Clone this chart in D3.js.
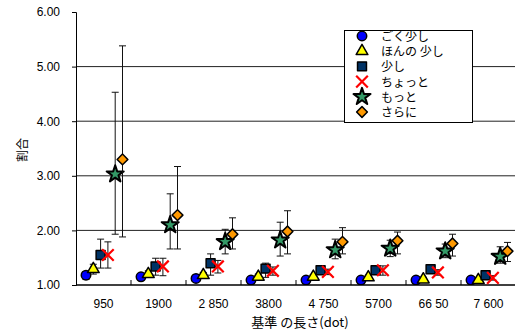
<!DOCTYPE html>
<html>
<head>
<meta charset="utf-8">
<script src="https://cdn.jsdelivr.net/npm/d3@7"></script>
<style>
  body { margin: 0; background: #fff; }
  text { font-family: "Liberation Sans", Arial, sans-serif; }
  .jp { font-family: "Noto Sans CJK JP", sans-serif; }
</style>
</head>
<body>
<div class="chart"></div>
<script>
// values
var categories = ["950", "1900", "2 850", "3800", "4 750", "5700", "66 50", "7 600"];
var seriesNames = ["ごく少し", "ほんの 少し", "少し", "ちょっと", "もっと", "さらに"];
var yTicks = [1, 2, 3, 4, 5, 6];

var goku    = [1.18, 1.15, 1.12, 1.09, 1.09, 1.09, 1.09, 1.09];
var honno   = [1.29, 1.20, 1.18, 1.15, 1.15, 1.14, 1.10, 1.09];
var sukoshi = [1.55, 1.34, 1.40, 1.30, 1.27, 1.27, 1.29, 1.18];
var chotto  = [1.55, 1.34, 1.34, 1.26, 1.24, 1.27, 1.23, 1.13];
var motto   = [3.03, 2.10, 1.79, 1.82, 1.64, 1.67, 1.62, 1.52];
var sarani  = [3.30, 2.28, 1.93, 1.98, 1.79, 1.81, 1.76, 1.62];

// error bar ends (upper / lower)
var gokuHi    = [1.24, 1.19, 1.16, 1.12, 1.12, 1.12, 1.12, 1.11];
var gokuLo    = [1.10, 1.10, 1.07, 1.05, 1.05, 1.05, 1.05, 1.05];
var honnoHi   = [1.38, 1.26, 1.23, 1.20, 1.19, 1.18, 1.14, 1.13];
var honnoLo   = [1.20, 1.14, 1.12, 1.10, 1.10, 1.10, 1.06, 1.05];
var sukoshiHi = [1.84, 1.49, 1.57, 1.40, 1.33, 1.32, 1.35, 1.22];
var sukoshiLo = [1.31, 1.18, 1.18, 1.14, 1.20, 1.21, 1.22, 1.13];
var chottoHi  = [1.79, 1.49, 1.45, 1.33, 1.29, 1.35, 1.28, 1.17];
var chottoLo  = [1.31, 1.17, 1.22, 1.18, 1.19, 1.18, 1.18, 1.09];
var mottoHi   = [4.53, 2.67, 2.02, 2.15, 1.84, 1.82, 1.75, 1.70];
var mottoLo   = [1.93, 1.66, 1.57, 1.53, 1.48, 1.52, 1.50, 1.40];
var saraniHi  = [5.38, 3.17, 2.23, 2.36, 2.05, 1.97, 1.93, 1.78];
var saraniLo  = [1.88, 1.66, 1.66, 1.57, 1.57, 1.57, 1.53, 1.43];

var seriesValues = [goku, honno, sukoshi, chotto, motto, sarani];
var seriesHi = [gokuHi, honnoHi, sukoshiHi, chottoHi, mottoHi, saraniHi];
var seriesLo = [gokuLo, honnoLo, sukoshiLo, chottoLo, mottoLo, saraniLo];

// marker styles per series (rot = extra rotation, for the diamond)
var styles = [
  {type: d3.symbolCircle,   size: 70, rot: 0,  fill: "#0000ff", stroke: "#000", sw: 1.5},
  {type: d3.symbolTriangle, size: 60, rot: 0,  fill: "#ffff00", stroke: "#000", sw: 1.5},
  {type: d3.symbolSquare,   size: 80, rot: 0,  fill: "#003366", stroke: "#000", sw: 1.5},
  {type: d3.symbolX,        size: 90, rot: 0,  fill: "none",    stroke: "#ff0000", sw: 2.2},
  {type: d3.symbolStar,     size: 90, rot: 0,  fill: "#339966", stroke: "#000", sw: 2},
  {type: d3.symbolSquare,   size: 58, rot: 45, fill: "#ff9900", stroke: "#000", sw: 1.5}
];

var svg = d3.select(".chart").append("svg").attr("width", 515).attr("height", 331),
    pLeft = 76, pRight = 516, pTop = 12, pBottom = 285;

var x = d3.scaleBand().domain(categories).range([pLeft, pRight]);
var off = d3.scalePoint().domain(seriesNames).range([-17.5, 19]);
var y = d3.scaleLinear().domain([1, 6]).range([pBottom, pTop]);

svg.append("defs").append("clipPath").attr("id", "plot")
  .append("rect").attr("x", pLeft).attr("y", pTop)
  .attr("width", pRight - pLeft).attr("height", pBottom - pTop);

// gridlines
svg.append("g").selectAll("line")
  .data(yTicks.filter(d => d > 1 && d < 6))
  .enter().append("line")
    .attr("x1", pLeft).attr("x2", pRight)
    .attr("y1", d => y(d)).attr("y2", d => y(d))
    .attr("stroke", "#222").attr("stroke-width", 1);

// y axis
var gy = svg.append("g").attr("transform", `translate(${pLeft},0)`)
  .call(d3.axisLeft(y).tickValues(yTicks).tickFormat(d3.format(".2f")).tickSize(4).tickPadding(12));
gy.select(".domain").attr("stroke", "#000");
gy.selectAll("text").style("font-size", "12px").attr("fill", "#000");

// x axis: ticks at band boundaries pointing inward
svg.append("line").attr("x1", pLeft).attr("x2", pRight)
  .attr("y1", pBottom).attr("y2", pBottom).attr("stroke", "#000").attr("stroke-width", 1.5);
svg.append("g").selectAll("line")
  .data(categories.slice(1))
  .enter().append("line")
    .attr("x1", d => x(d)).attr("x2", d => x(d))
    .attr("y1", pBottom).attr("y2", pBottom - 5)
    .attr("stroke", "#000");
svg.append("g").selectAll("text")
  .data(categories)
  .enter().append("text")
    .attr("x", d => x(d) + x.bandwidth() / 2)
    .attr("y", 308)
    .attr("text-anchor", "middle")
    .style("font-size", "12px")
    .text(d => d);

// axis titles
svg.append("text").attr("class", "jp")
  .attr("transform", "translate(27,150) rotate(-90)")
  .attr("text-anchor", "middle")
  .style("font-size", "12px")
  .text("割合");
svg.append("text").attr("class", "jp")
  .attr("x", 300).attr("y", 327)
  .attr("text-anchor", "middle")
  .style("font-size", "13px")
  .text("基準 の長さ(dot)");

// series
var plot = svg.append("g").attr("clip-path", "url(#plot)");
seriesNames.forEach(function(name, si) {
  var st = styles[si];
  var pts = categories.map((c, i) => ({
    cx: x(c) + x.bandwidth() / 2 + off(name),
    v: seriesValues[si][i], hi: seriesHi[si][i], lo: seriesLo[si][i]
  }));
  var g = plot.append("g");
  var eb = g.selectAll(".eb").data(pts).enter().append("g").attr("stroke", "#111").attr("stroke-width", 1);
  eb.append("line").attr("x1", d => d.cx).attr("x2", d => d.cx)
    .attr("y1", d => y(d.hi)).attr("y2", d => y(d.lo));
  eb.append("line").attr("x1", d => d.cx - 3.5).attr("x2", d => d.cx + 3.5)
    .attr("y1", d => y(d.hi)).attr("y2", d => y(d.hi));
  eb.append("line").attr("x1", d => d.cx - 3.5).attr("x2", d => d.cx + 3.5)
    .attr("y1", d => y(d.lo)).attr("y2", d => y(d.lo));
  g.selectAll(".m").data(pts).enter().append("path")
    .attr("d", d3.symbol().type(st.type).size(st.size))
    .attr("transform", d => `translate(${d.cx},${y(d.v)}) rotate(${st.rot})`)
    .attr("fill", st.fill).attr("stroke", st.stroke).attr("stroke-width", st.sw)
    .attr("stroke-linejoin", "round");
});

// legend
var lg = svg.append("g");
lg.append("rect").attr("x", 344.5).attr("y", 30.5).attr("width", 128).attr("height", 92)
  .attr("fill", "#fff").attr("stroke", "#000");
seriesNames.forEach(function(name, si) {
  var st = styles[si], ly = 37 + si * 15.2;
  lg.append("path")
    .attr("d", d3.symbol().type(st.type).size(st.size))
    .attr("transform", `translate(362,${ly - 1}) rotate(${st.rot})`)
    .attr("fill", st.fill).attr("stroke", st.stroke).attr("stroke-width", st.sw)
    .attr("stroke-linejoin", "round");
  lg.append("text").attr("class", "jp")
    .attr("x", 381).attr("y", ly + 4)
    .style("font-size", "12px")
    .text(name);
});
</script>
</body>
</html>
